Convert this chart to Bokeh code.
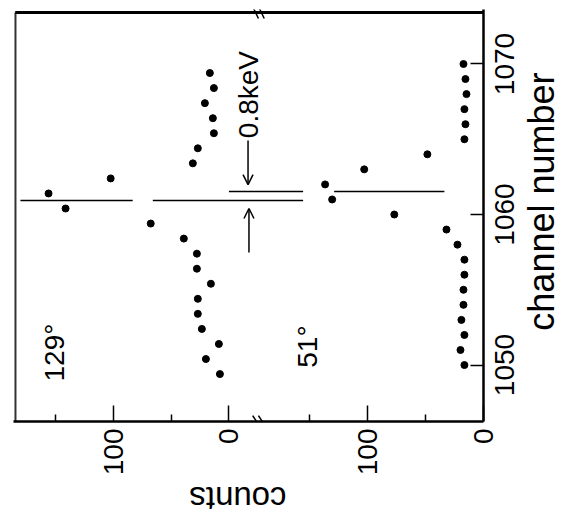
from math import pi
from bokeh.plotting import figure
from bokeh.layouts import column, row
from bokeh.models import Range1d, LinearAxis, FixedTicker, Arrow, OpenHead
from bokeh.core.properties import value
from bokeh.embed import file_html
from bokeh.resources import INLINE

FONT = "Liberation Sans"

# ---- data ----
# 129 degree spectrum (left panel)
ch_129 = [1049.4, 1050.4, 1051.4, 1052.4, 1053.4, 1054.4, 1055.4, 1056.4, 1057.4, 1058.4,
          1059.4, 1060.4, 1061.4, 1062.4, 1063.4, 1064.4, 1065.4, 1066.4, 1067.4, 1068.4, 1069.4]
counts_129 = [7.8, 19.9, 8.7, 23.4, 26.9, 26.9, 15.6, 27.7, 27.7, 39.0,
              67.6, 141.2, 155.9, 102.2, 31.2, 26.9, 13.0, 13.9, 20.8, 13.0, 16.5]

# 51 degree spectrum (right panel)
ch_51 = [1050, 1051, 1052, 1053, 1054, 1055, 1056, 1057, 1058, 1059,
         1060, 1061, 1062, 1063, 1064, 1065, 1066, 1067, 1068, 1069, 1070]
counts_51 = [16.5, 19.9, 16.5, 19.1, 17.3, 17.3, 16.5, 16.5, 22.5, 32.0,
             77.1, 130.8, 136.9, 103.1, 48.5, 16.5, 15.6, 16.5, 14.7, 15.6, 17.3]

# peak-position markers (channel) and their extents in counts
peak_129 = 1060.93
peak_129_from = [180.2, 65.8]
peak_129_to = [83.2, -64.1]
peak_51 = 1061.53
peak_51_from = [220.0, 129.1]
peak_51_to = [155.9, 33.8]

channel_ticks = [1050, 1060, 1070]
channel_labels = ["1050", "1060", "1070"]
count_ticks = [0, 100]
count_labels = ["0", "100"]
count_minor = [50, 150]
shift_51 = 220          # counts offset between the two panels' zeros
panel_break = -23       # position of the axis break (left-panel counts)

# plotting box (left-panel counts, channel)
BOX_LEFT, BOX_TOP = 184.5, 1073.42
X0, X1 = 186.2, -220
Y0, Y1 = 1046.25, 1073.62
FRAME_L, FRAME_R = 13, 483          # frame edges on the page (px)
px_per_count = (FRAME_R - FRAME_L) / (X0 - X1)

yr = Range1d(Y0, Y1)

# ---- main figure ----
p = figure(width=488, height=424, title=None,
           x_range=Range1d(X0, X1), y_range=yr,
           x_axis_type=None, y_axis_type=None,
           min_border_left=FRAME_L, min_border_top=9, min_border_right=5, min_border_bottom=3,
           output_backend="svg", toolbar_location=None)
p.extra_x_ranges = {"r": Range1d(X0 + shift_51, X1 + shift_51)}
p.outline_line_color = None
p.background_fill_color = "white"
p.border_fill_color = "white"

# left and top frame lines
p.segment(x0=[BOX_LEFT], x1=[BOX_LEFT], y0=[Y0], y1=[BOX_TOP], line_color="#333333", line_width=2)
p.segment(x0=[BOX_LEFT], x1=[X1], y0=[BOX_TOP], y1=[BOX_TOP], line_color="black", line_width=3)
p.quad(left=[BOX_LEFT], right=[X1], bottom=[BOX_TOP - 0.1], top=[BOX_TOP + 0.1],
       fill_color="black", line_color=None)

# bottom axis: line and ticks of both panels (labels drawn in the strip below)
ticks = count_ticks + [t - shift_51 for t in count_ticks]
minor = count_minor + [t - shift_51 for t in count_minor]
xaxis = LinearAxis(ticker=FixedTicker(ticks=ticks, minor_ticks=minor))
xaxis.major_label_overrides = {t: "" for t in ticks}
xaxis.axis_line_width = 2.5
xaxis.major_tick_in = 16
xaxis.major_tick_out = 0
xaxis.minor_tick_in = 7
xaxis.minor_tick_out = 0
xaxis.major_tick_line_width = 1.5
xaxis.minor_tick_line_width = 1.5
xaxis.major_label_standoff = 0
xaxis.major_label_text_font_size = "1px"
p.add_layout(xaxis, "below")

# right axis: line and ticks (labels drawn in the strip at the right)
yaxis = LinearAxis(ticker=FixedTicker(ticks=channel_ticks, minor_ticks=[]))
yaxis.axis_line_width = 2.5
yaxis.major_tick_in = 13
yaxis.major_tick_out = 0
yaxis.major_tick_line_width = 1.5
yaxis.minor_tick_line_color = None
yaxis.major_label_overrides = {t: "" for t in channel_ticks}
yaxis.major_label_text_font_size = "1px"
yaxis.major_label_standoff = 0
p.add_layout(yaxis, "right")

# peak marker lines
p.segment(x0=peak_129_from, x1=peak_129_to, y0=[peak_129] * 2, y1=[peak_129] * 2,
          line_color="black", line_width=1.5)
p.segment(x0=peak_51_from, x1=peak_51_to, y0=[peak_51] * 2, y1=[peak_51] * 2,
          line_color="black", line_width=1.5, x_range_name="r")

# data points
p.scatter(counts_129, ch_129, size=7, color="black")
p.scatter(counts_51, ch_51, size=7, color="black", x_range_name="r")

# in-frame texts
p.text(x=[150.7], y=[1050.83], text=["129°"], angle=pi / 2, text_align="center",
       text_baseline="middle", text_font=value(FONT), text_font_size="28px", text_color="black")
p.text(x=[152.4], y=[1051.23], text=["51°"], angle=pi / 2, text_align="center",
       text_baseline="middle", text_font=value(FONT), text_font_size="28px", text_color="black",
       x_range_name="r")
p.text(x=[-16.9], y=[1067.97], text=["0.8keV"], angle=pi / 2, text_align="center",
       text_baseline="middle", text_font=value(FONT), text_font_size="28px", text_color="black")

# 0.8 keV arrows
p.add_layout(Arrow(end=OpenHead(size=10, line_width=1.5), x_start=-16.5, y_start=1064.92,
                   x_end=-16.5, y_end=1061.99, line_width=1.5))
p.add_layout(Arrow(end=OpenHead(size=10, line_width=1.5), x_start=-17.3, y_start=1057.48,
                   x_end=-17.3, y_end=1060.40, line_width=1.5))

# axis-break marks (top and bottom)
for dx in (0, -5):
    for (ya, yb) in ((1046.64, 1046.05), (1073.82, 1073.02)):
        p.add_layout(Arrow(end=None, x_start=panel_break + dx + 2.5, y_start=ya,
                           x_end=panel_break + dx - 2.5, y_end=yb, line_width=1.5))

# ---- strip at the right: channel tick labels and title (share the channel scale) ----
p3 = figure(width=82, height=424, title=None, x_range=Range1d(488, 570), y_range=yr,
            x_axis_type=None, y_axis_type=None,
            min_border_left=0, min_border_right=0, min_border_top=9, min_border_bottom=3,
            output_backend="svg", toolbar_location=None)
p3.outline_line_color = None
p3.background_fill_color = "white"
p3.border_fill_color = "white"
p3.text(x=[504] * len(channel_ticks), y=channel_ticks, text=channel_labels, angle=pi / 2,
        text_align="center", text_baseline="middle", text_font=value(FONT),
        text_font_size="28px", text_color="black")
p3.text(x=[541], y=[1060.86], text=["channel number"], angle=pi / 2, text_align="center",
        text_baseline="middle", text_font=value(FONT), text_font_size="36px",
        text_color="black")

# ---- strip below (full width, same counts scale): count tick labels and "counts" ----
p2_left = X0 + FRAME_L / px_per_count
p2_right = X0 - (570 - FRAME_L) / px_per_count
p2 = figure(width=570, height=93, title=None, x_range=Range1d(p2_left, p2_right),
            y_range=Range1d(0, 93), x_axis_type=None, y_axis_type=None, min_border=0,
            output_backend="svg", toolbar_location=None)
p2.outline_line_color = None
p2.background_fill_color = "white"
p2.border_fill_color = "white"
p2.text(x=ticks, y=[89] * len(ticks), text=count_labels + count_labels, angle=pi / 2,
        text_align="right", text_baseline="middle", text_font=value(FONT),
        text_font_size="28px", text_color="black")
p2.text(x=[-7.8], y=[19], text=["counts"], angle=pi, text_align="center",
        text_baseline="middle", text_font=value(FONT), text_font_size="33px",
        text_color="black")

layout = column(row(p, p3, spacing=0), p2, spacing=0)
open("out.html", "w").write(file_html(layout, INLINE))
